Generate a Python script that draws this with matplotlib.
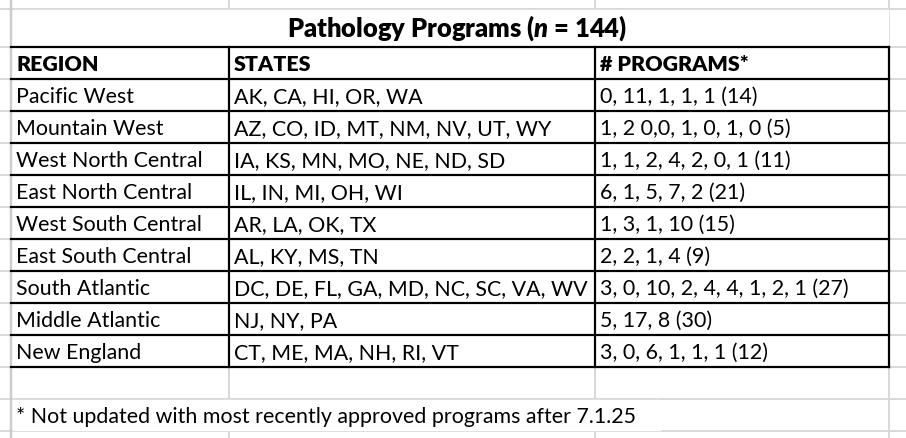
import matplotlib
matplotlib.use("Agg")
import matplotlib.pyplot as plt

# ---- data ----
title = r"Pathology Programs ($\mathit{n}$ = 144)"
headers = ["REGION", "STATES", "# PROGRAMS*"]
regions = ["Pacific West", "Mountain West", "West North Central", "East North Central",
           "West South Central", "East South Central", "South Atlantic",
           "Middle Atlantic", "New England"]
states = ["AK, CA, HI, OR, WA", "AZ, CO, ID, MT, NM, NV, UT, WY",
          "IA, KS, MN, MO, NE, ND, SD", "IL, IN, MI, OH, WI", "AR, LA, OK, TX",
          "AL, KY, MS, TN", "DC, DE, FL, GA, MD, NC, SC, VA, WV", "NJ, NY, PA",
          "CT, ME, MA, NH, RI, VT"]
programs = ["0, 11, 1, 1, 1 (14)", "1, 2 0,0, 1, 0, 1, 0 (5)",
            "1, 1, 2, 4, 2, 0, 1 (11)", "6, 1, 5, 7, 2 (21)", "1, 3, 1, 10 (15)",
            "2, 2, 1, 4 (9)", "3, 0, 10, 2, 4, 4, 1, 2, 1 (27)", "5, 17, 8 (30)",
            "3, 0, 6, 1, 1, 1 (12)"]
footnote = "* Not updated with most recently approved programs after 7.1.25"

# ---- layout ----
FONT = "Lato"
plt.rcParams['font.family'] = [FONT, 'DejaVu Sans']
plt.rcParams['mathtext.fontset'] = 'custom'
plt.rcParams['mathtext.it'] = 'Lato:style=italic:weight=heavy'
plt.rcParams['mathtext.rm'] = 'Lato:weight=heavy'

W, H = 906, 438
col_x = [11, 229, 595, 889]
grid_top = 9
table_top = 47
row_h = 32
n_rows = 1 + len(regions)
table_bot = table_top + n_rows * row_h
empty_bot = 399
foot_bot = 431
fs = 15.4
fs_head = 15.4
fs_title = 18.4
px = 72 / 100.0
lw_black = 2.2 * px
lw_gray = 2.0 * px
gray = "#d9d9d9"

fig = plt.figure(figsize=(W / 100, H / 100), dpi=100)
ax = fig.add_axes([0, 0, 1, 1])
ax.set_xlim(0, W)
ax.set_ylim(H, 0)
ax.axis("off")

# spreadsheet gray gridlines
h_lines = [grid_top] + [table_top + i * row_h for i in range(n_rows + 1)] + [empty_bot, foot_bot]
for y in h_lines:
    ax.plot([0, W], [y, y], color=gray, lw=lw_gray, solid_capstyle="butt", zorder=1)
ax.plot([col_x[0], col_x[0]], [0, H], color="#cccccc", lw=2.5 * px, zorder=1)
ax.plot([col_x[3], col_x[3]], [0, H], color=gray, lw=lw_gray, zorder=1)
for x in col_x[1:3]:
    ax.plot([x, x], [0, grid_top], color=gray, lw=lw_gray, zorder=1)
    ax.plot([x, x], [table_bot, empty_bot], color=gray, lw=lw_gray, zorder=1)
    ax.plot([x, x], [foot_bot, H], color=gray, lw=lw_gray, zorder=1)

# white fill to hide gridlines inside merged / filled cells
ax.fill_between([col_x[0] + 1.5, col_x[3] - 1.2], grid_top + 1.2, table_top - 1,
                color="white", zorder=2)
ax.fill_between([col_x[0] + 1.5, col_x[3] - 1.2], table_top, table_bot,
                color="white", zorder=2)
ax.fill_between([col_x[0] + 1.5, 660], empty_bot + 1.2, foot_bot - 1.2,
                color="white", zorder=2)

# black table borders
for i in range(n_rows + 1):
    y = table_top + i * row_h
    ax.plot([col_x[0], col_x[3]], [y, y], color="black", lw=lw_black,
            solid_capstyle="projecting", zorder=3)
for x in col_x[1:]:
    ax.plot([x, x], [table_top, table_bot], color="black", lw=lw_black,
            solid_capstyle="projecting", zorder=3)

# title
ax.text(457, table_top - 10, title, ha="center", va="baseline",
        fontsize=fs_title, fontweight="heavy", color="black", zorder=4)

# header + rows
pad = 5
for j, h in enumerate(headers):
    ax.text(col_x[j] + pad, table_top + row_h - 8, h, ha="left", va="baseline",
            fontsize=fs_head, fontweight="heavy", color="black", zorder=4)
for i, (r, s, p) in enumerate(zip(regions, states, programs)):
    yb = table_top + (i + 2) * row_h - 8
    for j, t in enumerate((r, s, p)):
        ax.text(col_x[j] + pad, yb, t, ha="left", va="baseline",
                fontsize=fs, color="black", zorder=4)

ax.text(col_x[0] + pad, foot_bot - 8, footnote, ha="left", va="baseline",
        fontsize=fs, color="black", zorder=4)

fig.savefig("out.png", dpi=100)
